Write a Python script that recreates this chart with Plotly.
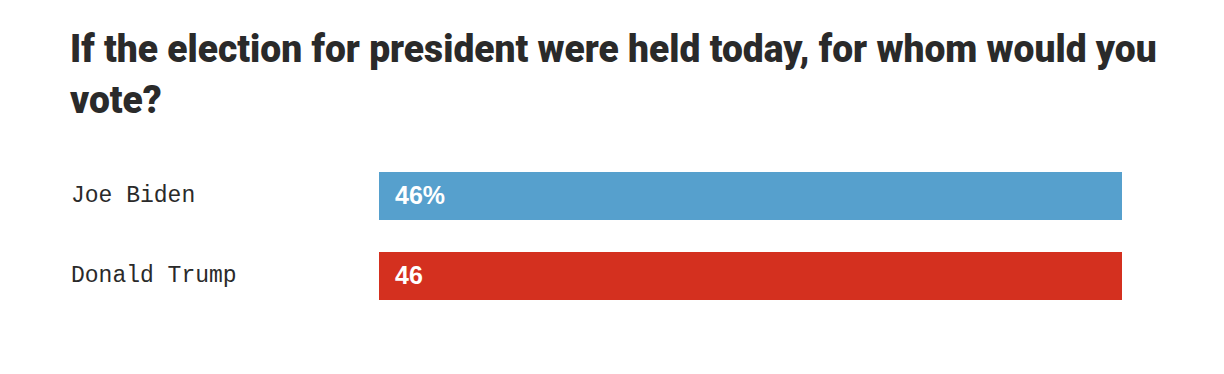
import plotly.graph_objects as go

candidates = ["Joe Biden", "Donald Trump"]
values = [46, 46]
colors = ["#56a0cd", "#d4301f"]
title_text = "If the election for president were held today, for whom would you<br>vote?"

bar_labels = [f"{v}%" if i == 0 else f"{v}" for i, v in enumerate(values)]

OFF = 8  # page body margin
W, H = 1224 - OFF, 374 - OFF
ml, mr, mt, mb = 379 - OFF, 102, 156 - OFF, 58
plot_w = W - ml - mr
TITLE_W = 1087

fig = go.Figure()
fig.add_trace(go.Bar(
    x=values, y=candidates, orientation="h",
    marker=dict(color=colors, line=dict(width=0)),
    width=0.6, hoverinfo="skip",
))

annotations = []
for c, lab in zip(candidates, bar_labels):
    annotations.append(dict(
        x=0, y=c, xref="x", yref="y", text=lab, showarrow=False,
        xanchor="left", yanchor="middle", xshift=14, yshift=1,
        font=dict(family="Liberation Sans, Arial, sans-serif", size=25, color="white", weight="bold"),
    ))
    annotations.append(dict(
        x=(69 - OFF - ml) / plot_w, y=c, xref="paper", yref="y", text=c, showarrow=False,
        xanchor="left", yanchor="middle", yshift=0,
        font=dict(family="Liberation Mono, DejaVu Sans Mono, monospace", size=23, color="#2a2a2a"),
    ))

fig.update_layout(
    width=W, height=H,
    margin=dict(l=ml, r=mr, t=mt, b=mb),
    paper_bgcolor="white", plot_bgcolor="white",
    showlegend=False,
    title=dict(
        text=title_text, xref="container", yref="container",
        x=(70 - OFF) / W, y=1 - (62 - OFF) / H, xanchor="left", yanchor="top",
        font=dict(family="Roboto, Liberation Sans, sans-serif",
                  size=39, color="#2a2a2a", weight=900),
    ),
    xaxis=dict(range=[0, max(values)], visible=False, fixedrange=True),
    yaxis=dict(autorange="reversed", visible=False, fixedrange=True),
    annotations=annotations,
)

post = """
var gd = document.getElementById('{plot_id}');
function fitTitle(){
  var t = gd.querySelector('.gtitle');
  if(!t) return;
  t.removeAttribute('transform');
  var b = t.getBBox();
  if(!b.width) return;
  var s = %d / b.width;
  t.setAttribute('transform', 'translate(' + b.x + ',0) scale(' + s + ',1) translate(' + (-b.x) + ',0)');
}
fitTitle();
if (gd.on) gd.on('plotly_afterplot', fitTitle);
""" % TITLE_W

fig.write_html("out.html", post_script=post)
